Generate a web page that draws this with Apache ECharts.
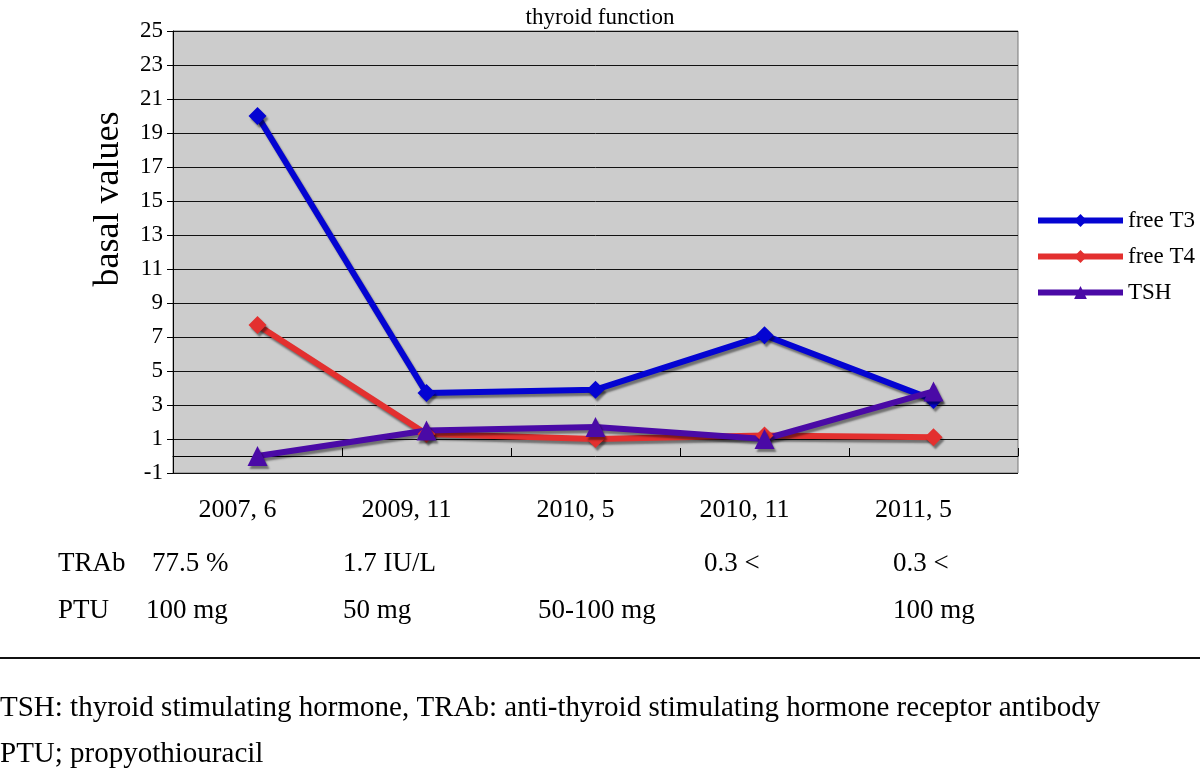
<!DOCTYPE html>
<html>
<head>
<meta charset="utf-8">
<script src="https://cdn.jsdelivr.net/npm/echarts@6/dist/echarts.min.js"></script>
<style>html,body{margin:0;padding:0;background:#fff;}#c{width:1200px;height:771px;}</style>
</head>
<body>
<div id="c"></div>
<script>
var categories = ['2007, 6', '2009, 11', '2010, 5', '2010, 11', '2011, 5'];
var freeT3 = [20.0, 3.7, 3.9, 7.1, 3.3];
var freeT4 = [7.7, 1.3, 1.0, 1.2, 1.1];
var tsh = [0.0, 1.5, 1.7, 1.0, 3.8];
var yTicks = [-1, 1, 3, 5, 7, 9, 11, 13, 15, 17, 19, 21, 23, 25];
var trabRow = ['TRAb', '77.5 %', '1.7 IU/L', '0.3 <', '0.3 <'];
var ptuRow = ['PTU', '100 mg', '50 mg', '50-100 mg', '100 mg'];
var footnotes = ['TSH: thyroid stimulating hormone, TRAb: anti-thyroid stimulating hormone receptor antibody', 'PTU; propyothiouracil'];

var SERIF = '"Liberation Serif", "Times New Roman", serif';
var trabX = [58, 152, 343, 704, 893];
var ptuX = [58, 146, 343, 538, 893];

var chart = echarts.init(document.getElementById('c'));
var graphics = [];
trabRow.forEach(function (t, i) {
  graphics.push({type: 'text', x: trabX[i], y: 564, style: {text: t, font: '27px ' + SERIF, fill: '#000', verticalAlign: 'middle'}});
});
ptuRow.forEach(function (t, i) {
  graphics.push({type: 'text', x: ptuX[i], y: 611, style: {text: t, font: '27px ' + SERIF, fill: '#000', verticalAlign: 'middle'}});
});
graphics.push({type: 'rect', shape: {x: 0, y: 657, width: 1200, height: 2}, style: {fill: '#111'}});
footnotes.forEach(function (t, i) {
  graphics.push({type: 'text', x: 0, y: 708 + i * 46, style: {text: t, font: '29px ' + SERIF, fill: '#000', verticalAlign: 'middle'}});
});
graphics.push({type: 'text', x: 109, y: 199, rotation: Math.PI / 2,
  style: {text: 'basal values', font: '36px ' + SERIF, fill: '#000', align: 'center', verticalAlign: 'middle'}});

function lineSeries(name, data, color, symbol, size) {
  return {
    name: name, type: 'line', data: data, symbol: symbol, symbolSize: size,
    lineStyle: {color: color, width: 6, shadowColor: 'rgba(0,0,0,0.45)', shadowOffsetX: 2, shadowOffsetY: 3, shadowBlur: 2},
    itemStyle: {color: color, shadowColor: 'rgba(0,0,0,0.45)', shadowOffsetX: 2, shadowOffsetY: 3, shadowBlur: 2},
    emphasis: {disabled: true}, animation: false
  };
}

chart.setOption({
  animation: false,
  title: {text: 'thyroid function', left: 'center', top: 1, textStyle: {fontFamily: SERIF, fontSize: 23, fontWeight: 'normal', color: '#000'}},
  legend: {
    orient: 'vertical', left: 1030, top: 204, itemWidth: 85, itemHeight: 16, itemGap: 13,
    lineStyle: {width: 6, shadowColor: 'transparent', shadowBlur: 0, shadowOffsetX: 0, shadowOffsetY: 0},
    itemStyle: {shadowColor: 'transparent', shadowBlur: 0, shadowOffsetX: 0, shadowOffsetY: 0},
    textStyle: {fontFamily: SERIF, fontSize: 23, color: '#000'},
    data: ['free T3', 'free T4', 'TSH']
  },
  grid: {left: 173, right: 182, top: 31, bottom: 298, show: true, backgroundColor: '#cccccc', borderColor: '#777', borderWidth: 1},
  xAxis: {
    type: 'category', data: categories, boundaryGap: true,
    axisLine: {onZero: true, lineStyle: {color: '#000', width: 1}},
    axisTick: {show: true, inside: true, length: 8, interval: 0, lineStyle: {color: '#000'}},
    axisLabel: {margin: 24, fontFamily: SERIF, fontSize: 26, color: '#000', interval: 0, padding: [0, 40, 0, 0]},
    splitLine: {show: false}
  },
  yAxis: {
    type: 'value', min: -1, max: 25,
    axisLine: {show: true, lineStyle: {color: '#000'}},
    axisTick: {show: true, length: 6, customValues: yTicks, lineStyle: {color: '#000'}},
    axisLabel: {customValues: yTicks, fontFamily: SERIF, fontSize: 23, color: '#000', margin: 10},
    splitLine: {show: true, lineStyle: {color: '#111', width: 1}}
  },
  graphic: graphics,
  series: [
    lineSeries('free T3', freeT3, '#0404d2', 'diamond', 18),
    lineSeries('free T4', freeT4, '#e3302f', 'diamond', 18),
    lineSeries('TSH', tsh, '#4a0aa6', 'triangle', 20)
  ]
});
</script>
</body>
</html>
